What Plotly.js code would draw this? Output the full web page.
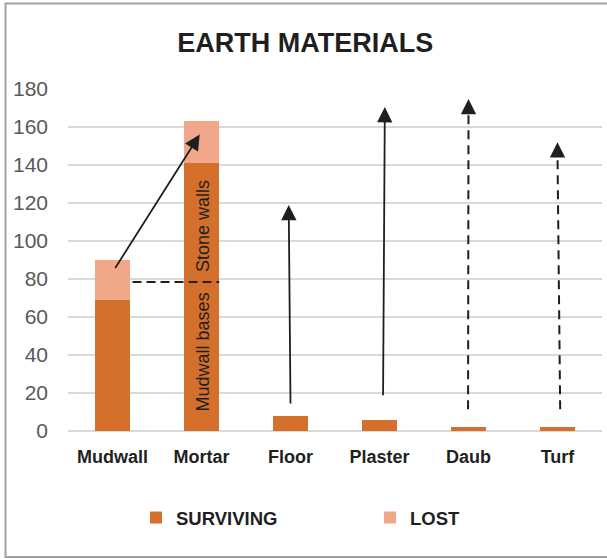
<!DOCTYPE html>
<html>
<head>
<meta charset="utf-8">
<script src="https://cdn.plot.ly/plotly-3.0.1.min.js"></script>
<style>html,body{margin:0;padding:0;background:#fff;}#chart{width:607px;height:559px;}</style>
</head>
<body>
<div id="chart"></div>
<script>
// ---- data ----
const categories = ["Mudwall", "Mortar", "Floor", "Plaster", "Daub", "Turf"];
const surviving = [69, 141, 8, 6, 2, 2];
const lost = [21, 22, 0, 0, 0, 0];
const yTicks = [0, 20, 40, 60, 80, 100, 120, 140, 160, 180];

// arrows: tail and head (x as category index, y in data units)
const arrowTailX = [0.02, 2.0, 3.04, 3.995, 5.03];
const arrowTailY = [85, 13.7, 18, 11.5, 11.5];
const arrowHeadX = [0.98, 1.98, 3.06, 4.0, 5.0];
const arrowHeadY = [156, 119, 170.5, 174.7, 152];
const arrowDashed = [false, false, false, true, true];

// dashed divider between mudwall and mortar
const dividerX = [0.225, 1.2];
const dividerY = [78.4, 78.4];

// labels in the Mortar bar
const barLabelText = ["Mudwall bases", "Stone walls"];
const barLabelX = [1.02, 1.02];
const barLabelY = [41.5, 108];

const cDark = "#D4702C", cLight = "#F1A88A", ink = "#1f1f1f";

const traces = [
  {type: "bar", name: "SURVIVING", x: categories, y: surviving, marker: {color: cDark}, hoverinfo: "x+y"},
  {type: "bar", name: "LOST", x: categories, y: lost, marker: {color: cLight}, hoverinfo: "x+y"}
];

const shapes = [];
const annotations = [];
// outer border
const L = 68, R = 602, T = 89, B = 431;
const px2x = p => (p - L) / (R - L);
const py2y = p => (B - p) / (B - T);
shapes.push({type: "rect", xref: "paper", yref: "paper",
  x0: px2x(5.5), x1: px2x(609), y0: py2y(557), y1: py2y(3.5),
  line: {color: "#a0a0a0", width: 2}, fillcolor: "rgba(0,0,0,0)", layer: "below"});

shapes.push({type: "line", xref: "x", yref: "y", x0: dividerX[0], x1: dividerX[1], y0: dividerY[0], y1: dividerY[1],
  line: {color: ink, width: 2, dash: "9px,5px"}});

for (let i = 0; i < arrowTailX.length; i++) {
  if (arrowDashed[i]) {
    shapes.push({type: "line", xref: "x", yref: "y", x0: arrowTailX[i], y0: arrowTailY[i],
      x1: arrowHeadX[i], y1: arrowHeadY[i] - 6, line: {color: ink, width: 2, dash: "9px,6px"}});
    annotations.push({x: arrowHeadX[i], y: arrowHeadY[i], ax: arrowHeadX[i], ay: arrowHeadY[i] - 7,
      xref: "x", yref: "y", axref: "x", ayref: "y", text: "", showarrow: true,
      arrowhead: 2, arrowsize: 1.7, arrowwidth: 1.8, arrowcolor: ink});
  } else {
    annotations.push({x: arrowHeadX[i], y: arrowHeadY[i], ax: arrowTailX[i], ay: arrowTailY[i],
      xref: "x", yref: "y", axref: "x", ayref: "y", text: "", showarrow: true,
      arrowhead: 2, arrowsize: 1.7, arrowwidth: 1.8, arrowcolor: ink});
  }
}
for (let i = 0; i < barLabelText.length; i++) {
  annotations.push({x: barLabelX[i], y: barLabelY[i], xref: "x", yref: "y", text: barLabelText[i],
    showarrow: false, textangle: -90, font: {family: "Liberation Sans, Arial, sans-serif", size: 18, color: ink}});
}

const layout = {
  width: 607, height: 559,
  margin: {l: L, r: 607 - R, t: T, b: 559 - B, pad: 0, autoexpand: false},
  paper_bgcolor: "#fff", plot_bgcolor: "#fff",
  title: {text: "<b>EARTH MATERIALS</b>", x: 0.503, xref: "container", xanchor: "center",
    y: 1 - 43 / 559, yref: "container", yanchor: "middle",
    font: {family: "Liberation Sans, Arial, sans-serif", size: 27, color: ink}},
  barmode: "stack", bargap: 0.596,
  xaxis: {type: "category", showgrid: false, showline: false, zeroline: false, ticks: "",
    ticklabelstandoff: 13, tickangle: 0, automargin: false,
    tickfont: {family: "Liberation Sans, Arial, sans-serif", size: 18, color: ink, weight: "bold"}},
  yaxis: {range: [0, 180], tickvals: yTicks, showgrid: true, gridcolor: "#d9d9d9", gridwidth: 2,
    zeroline: true, zerolinecolor: "#d9d9d9", zerolinewidth: 2, showline: false, ticks: "",
    ticklabelstandoff: 19, automargin: false,
    tickfont: {family: "Liberation Sans, Arial, sans-serif", size: 21, color: "#595959"}},
  showlegend: true,
  legend: {orientation: "h", xref: "paper", x: px2x(136), xanchor: "left",
    yref: "paper", y: py2y(518), yanchor: "middle", entrywidth: 189, entrywidthmode: "pixels",
    font: {family: "Liberation Sans, Arial, sans-serif", size: 18.5, color: ink, weight: "bold"},
    traceorder: "normal", bgcolor: "rgba(0,0,0,0)"},
  shapes: shapes, annotations: annotations
};

Plotly.newPlot("chart", traces, layout, {displayModeBar: false, staticPlot: true});
</script>
</body>
</html>
